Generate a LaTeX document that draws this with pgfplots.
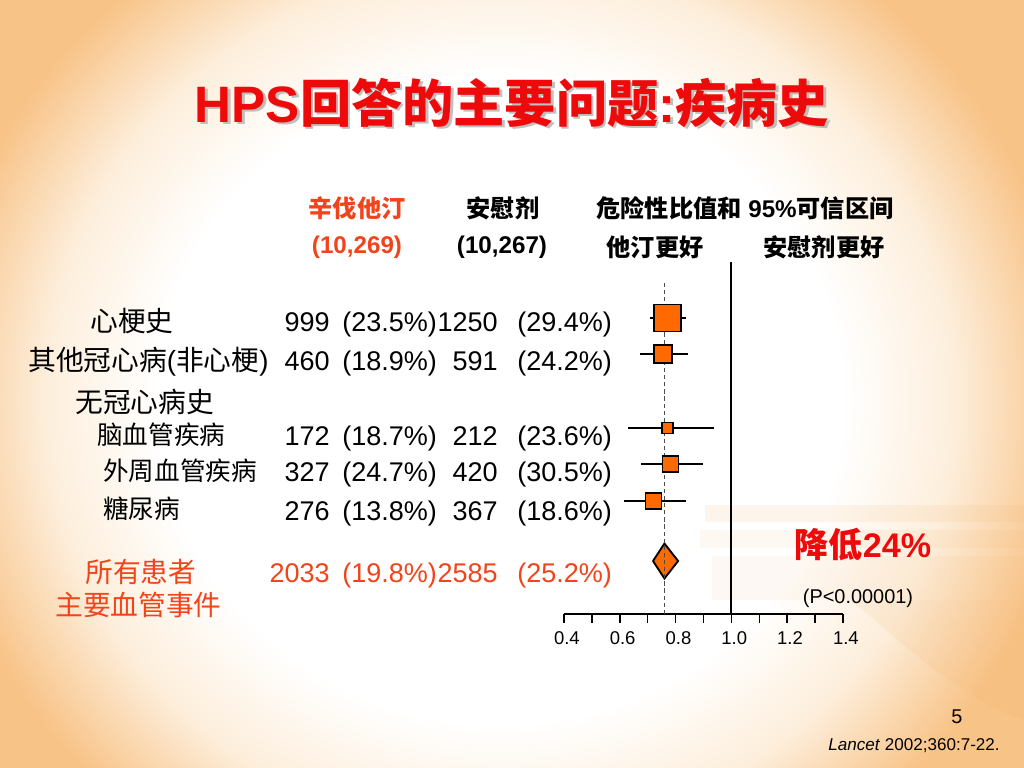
\documentclass[border=0pt]{standalone}
\usepackage{fontspec}
\setmainfont{Liberation Sans}
\newfontfamily\cjk{Noto Sans CJK SC}
\usepackage{pgfplots}
\pgfplotsset{compat=1.18}

\definecolor{peach}{HTML}{F8C387}
\definecolor{cream}{HTML}{FDEEDB}
\definecolor{titlered}{HTML}{EE0A0A}
\definecolor{hiorange}{HTML}{F2431B}
\definecolor{boxorange}{HTML}{FF6A00}
\definecolor{stair}{HTML}{F2B26A}

\pgfdeclareradialshading{glow}{\pgfpoint{0bp}{0bp}}{%
  color(0bp)=(white); color(15bp)=(white); color(20bp)=(cream);
  color(25bp)=(peach); color(50bp)=(peach)}

\tikzset{
  hdr/.style={font=\fontsize{17}{20}\selectfont\bfseries, inner sep=0pt},
  num/.style={font=\fontsize{19}{22}\selectfont, inner sep=0pt},
  lab/.style={font=\fontsize{19.5}{22}\selectfont\cjk, inner sep=0pt, anchor=base west},
  sub/.style={font=\fontsize{18}{21}\selectfont\cjk, inner sep=0pt, anchor=base west},
}
% one data row: baseline y, count1, pct1, count2, pct2
\newcommand\datarow[5]{%
  \node[num, anchor=base east] at (330,#1) {#2};
  \node[num, anchor=base west] at (342,#1) {(#3\%)};
  \node[num, anchor=base east] at (498,#1) {#4};
  \node[num, anchor=base west] at (517,#1) {(#5\%)};
}

\begin{document}
\begin{tikzpicture}[x=0.703125pt, y=-0.703125pt]
\useasboundingbox (0,0) rectangle (1024,768);

% slide background
\begin{scope}
  \clip (0,0) rectangle (1024,768);
  \fill[peach] (0,0) rectangle (1024,768);
  \shade[shading=glow] (500,400) ellipse (570 and 540);
  \fill[stair, opacity=0.12] (705,505) rectangle (1024,522);
  \fill[stair, opacity=0.09] (700,530) rectangle (1024,548);
  \fill[stair, opacity=0.08] (712,556) rectangle (1024,600);
  \fill[stair, opacity=0.12] (850,600) .. controls (900,640) and (960,700) .. (1024,720)
        -- (1024,600) -- cycle;
\end{scope}

\begin{axis}[
  at={(564*0.703125pt,-614*0.703125pt)}, anchor=south west,
  scale only axis, width=196.17pt, height=247.5pt,
  xmin=0.4, xmax=1.4, ymin=154, ymax=506,
  clip=false,
  axis x line*=bottom, axis y line=none,
  x axis line style={-, line width=1.3pt},
  xtick={0.4,0.5,0.6,0.7,0.8,0.9,1.0,1.1,1.2,1.3,1.4},
  xticklabels={0.4,,0.6,,0.8,,1.0,,1.2,,1.4},
  tick align=outside, major tick length=6pt,
  tick style={black, line width=1.1pt},
  xticklabel style={font=\fontsize{13}{15}\selectfont, anchor=north,
    xshift=2pt, yshift=-3pt},
]
% line of no effect
\addplot[black, line width=1.4pt] coordinates {(1,154) (1,506)};
% confidence intervals
\addplot[black, line width=1.3pt] coordinates {(0.708,450) (0.837,450)};
\addplot[black, line width=1.3pt] coordinates {(0.672,414) (0.844,414)};
\addplot[black, line width=1.3pt] coordinates {(0.629,340) (0.938,340)};
\addplot[black, line width=1.3pt] coordinates {(0.676,304) (0.898,304)};
\addplot[black, line width=1.3pt] coordinates {(0.615,267) (0.837,267)};
% hazard ratios, box size ~ weight
\addplot[only marks, mark=square*, mark size=9.5pt,
  mark options={fill=boxorange, draw=black, line width=1.2pt}] coordinates {(0.771,450)};
\addplot[only marks, mark=square*, mark size=6.3pt,
  mark options={fill=boxorange, draw=black, line width=1.2pt}] coordinates {(0.755,414)};
\addplot[only marks, mark=square*, mark size=3.9pt,
  mark options={fill=boxorange, draw=black, line width=1.2pt}] coordinates {(0.771,340)};
\addplot[only marks, mark=square*, mark size=5.6pt,
  mark options={fill=boxorange, draw=black, line width=1.2pt}] coordinates {(0.782,304)};
\addplot[only marks, mark=square*, mark size=5.6pt,
  mark options={fill=boxorange, draw=black, line width=1.2pt}] coordinates {(0.721,267)};
% overall
\addplot[fill=boxorange, draw=black, line width=1.3pt, line join=miter]
  coordinates {(0.719,207) (0.76,224.5) (0.809,207) (0.76,189.5) (0.719,207)};
% overall estimate
\addplot[densely dashed, black!70, line width=0.7pt] coordinates {(0.76,154) (0.76,488)};
\end{axis}

% title with shadow
\node[font=\fontsize{36}{40}\selectfont\bfseries, text=black!35, opacity=0.7]
  at (514.5,105.5) {HPS{\cjk 回答的主要问题}:{\cjk 疾病史}};
\node[font=\fontsize{36}{40}\selectfont\bfseries, text=titlered]
  at (512,103) {HPS{\cjk 回答的主要问题}:{\cjk 疾病史}};

% column headers
\node[hdr, text=hiorange] at (357,208) {\cjk 辛伐他汀};
\node[hdr] at (503,208) {\cjk 安慰剂};
\node[hdr] at (745,208) {{\cjk 危险性比值和} 95\%{\cjk 可信区间}};
\node[hdr, text=hiorange] at (357,247) {(10,269)};
\node[hdr] at (502,247) {(10,267)};
\node[hdr] at (655,247) {\cjk 他汀更好};
\node[hdr] at (824,247) {\cjk 安慰剂更好};

% row labels
\node[lab] at (90,332) {心梗史};
\node[lab] at (28,370) {其他冠心病{\rmfamily(}非心梗{\rmfamily)}};
\node[lab] at (75,412) {无冠心病史};
\node[sub] at (97,444) {脑血管疾病};
\node[sub] at (103,480) {外周血管疾病};
\node[sub] at (103,518) {糖尿病};
\node[lab, text=hiorange] at (85,582) {所有患者};
\node[lab, text=hiorange] at (55,615) {主要血管事件};

% event counts
\datarow{332}{999}{23.5}{1250}{29.4}
\datarow{370}{460}{18.9}{591}{24.2}
\datarow{445}{172}{18.7}{212}{23.6}
\datarow{481}{327}{24.7}{420}{30.5}
\datarow{520}{276}{13.8}{367}{18.6}
\begin{scope}[every node/.append style={text=hiorange}]
\datarow{582}{2033}{19.8}{2585}{25.2}
\end{scope}

% result
\node[font=\fontsize{24}{28}\selectfont\bfseries, text=titlered] at (863,545)
  {{\cjk 降低}24\%};
\node[font=\fontsize{14}{16}\selectfont] at (858,598) {(P<0.00001)};

% footer
\node[font=\fontsize{14}{16}\selectfont] at (957,717) {5};
\node[font=\fontsize{12}{14}\selectfont, anchor=east, inner sep=0pt] at (1000,746)
  {\textit{Lancet} 2002;360:7-22.};
\end{tikzpicture}
\end{document}
